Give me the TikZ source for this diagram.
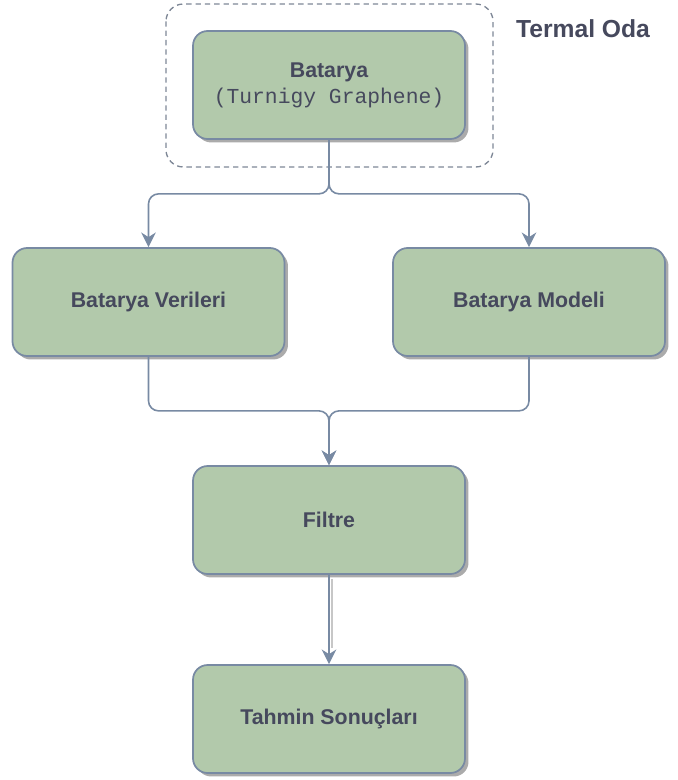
\documentclass[tikz,border=0pt]{standalone}
\usepackage{fontspec}
\setmainfont{Liberation Sans}
\setmonofont{Liberation Mono}
\usetikzlibrary{arrows.meta,shadows}
\definecolor{boxfill}{HTML}{B2C9AB}
\definecolor{boxline}{HTML}{788AA3}
\definecolor{boxtext}{HTML}{46495D}
\definecolor{odaline}{HTML}{7E8796}
\begin{document}
\begin{tikzpicture}[x=0.75pt, y=-0.75pt,
    block/.style={shape=rectangle, draw=boxline, fill=boxfill, line width=1.3pt,
        rounded corners=11pt, minimum width=204pt, minimum height=81pt,
        text=boxtext, align=center, font=\fontsize{16}{19.5}\selectfont\bfseries,
        drop shadow={shadow xshift=2.6pt, shadow yshift=-2.6pt, fill=black!33, opacity=1}},
    link/.style={draw=boxline, line width=1.2pt, rounded corners=7.5pt,
        -{Stealth[length=11pt, width=11pt, inset=3.5pt]}}]
\useasboundingbox (0,0) rectangle (677,780);

% thermal chamber
\draw[odaline, line width=1pt, dash pattern=on 4pt off 3pt, rounded corners=13pt] (166,4) rectangle (493,167);
\node[text=boxtext, font=\fontsize{18.5}{22}\selectfont\bfseries] (oda) at (583,29) {Termal Oda};

\node[block] (bat) at (329,85) {Batarya\\{\ttfamily\mdseries (Turnigy Graphene)}};
\node[block] (ver) at (148.5,302) {Batarya Verileri};
\node[block] (mod) at (529,302) {Batarya Modeli};
\node[block] (fil) at (329,520) {Filtre};
\node[block] (tah) at (329,719) {Tahmin Sonuçları};

\draw[link] (bat.south) -- ++(0,54) -| (ver.north);
\draw[link] (bat.south) -- ++(0,54) -| (mod.north);
\draw[link] (ver.south) -- ++(0,54) -| (fil.north);
\draw[link] (mod.south) -- ++(0,54) -| (fil.north);
\draw[black!22, line width=1.1pt, transform canvas={xshift=2.4pt}] ([yshift=-3pt]fil.south) -- ([yshift=12pt]tah.north);
\draw[link] (fil) -- (tah);
\end{tikzpicture}
\end{document}
